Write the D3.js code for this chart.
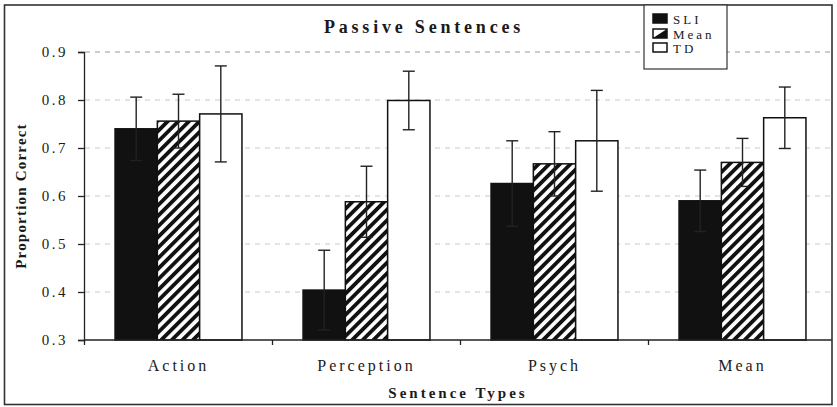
<!DOCTYPE html>
<html><head><meta charset="utf-8">
<script src="https://cdn.jsdelivr.net/npm/d3@7"></script>
<style>body{margin:0;background:#fff}svg{display:block}svg text{font-family:"Liberation Serif","Times New Roman",Times,"DejaVu Serif",serif !important;fill:#1a1a1a}</style>
</head><body>
<svg id="c" width="837" height="407"></svg>
<script>
const categories = ["Action", "Perception", "Psych", "Mean"];
const groups = ["SLI", "Mean", "TD"];
const sliValues = [0.740, 0.404, 0.626, 0.590];
const sliErrors = [0.066, 0.083, 0.089, 0.064];
const meanValues = [0.756, 0.588, 0.667, 0.670];
const meanErrors = [0.056, 0.074, 0.067, 0.050];
const tdValues = [0.771, 0.799, 0.715, 0.763];
const tdErrors = [0.100, 0.061, 0.105, 0.064];
const yTicks = [0.3, 0.4, 0.5, 0.6, 0.7, 0.8, 0.9];

const series = [
  {name: "SLI", values: sliValues, errors: sliErrors},
  {name: "Mean", values: meanValues, errors: meanErrors},
  {name: "TD", values: tdValues, errors: tdErrors}
];

const svg = d3.select("#c");
const defs = svg.append("defs");
const pat = defs.append("pattern").attr("id","hatch").attr("patternUnits","userSpaceOnUse")
  .attr("width",7.5).attr("height",7.5).attr("patternTransform","rotate(45)");
pat.append("rect").attr("width",7.5).attr("height",7.5).attr("fill","#fff");
pat.append("rect").attr("x",0).attr("width",3.8).attr("height",7.5).attr("fill","#111");

const fills = {SLI: "#111", Mean: "url(#hatch)", TD: "#fff"};

const x0 = d3.scaleBand().domain(categories).range([84.5, 836.5]).paddingInner(0.325).paddingOuter(0.1625);
const x1 = d3.scaleBand().domain(groups).range([0, x0.bandwidth()]);
const y = d3.scaleLinear().domain([0.3, 0.9]).range([340, 52]);
const xRight = 832;

// gridlines
svg.append("g").selectAll("line").data(yTicks.filter(t => t > 0.3)).join("line")
  .attr("x1", 85).attr("x2", xRight).attr("y1", d => y(d)).attr("y2", d => y(d))
  .attr("stroke", d => d === 0.9 ? "#999" : "#c8c8c8").attr("stroke-width", 1)
  .attr("stroke-dasharray", "5,5");

// bars
const g = svg.append("g");
categories.forEach((c, i) => {
  series.forEach(s => {
    const bx = x0(c) + x1(s.name);
    g.append("rect").attr("x", bx).attr("y", y(s.values[i]))
      .attr("width", x1.bandwidth()).attr("height", y(0.3) - y(s.values[i]))
      .attr("fill", fills[s.name]).attr("stroke", "#111").attr("stroke-width", 1.5);
  });
});
// error bars
categories.forEach((c, i) => {
  series.forEach(s => {
    const cx = x0(c) + x1(s.name) + x1.bandwidth() / 2;
    const hi = y(s.values[i] + s.errors[i]), lo = y(s.values[i] - s.errors[i]);
    const col = "#222";
    g.append("line").attr("x1", cx).attr("x2", cx).attr("y1", hi).attr("y2", lo).attr("stroke", col).attr("stroke-width", 1.4);
    g.append("line").attr("x1", cx - 6).attr("x2", cx + 6).attr("y1", hi).attr("y2", hi).attr("stroke", col).attr("stroke-width", 1.4);
    g.append("line").attr("x1", cx - 6).attr("x2", cx + 6).attr("y1", lo).attr("y2", lo).attr("stroke", col).attr("stroke-width", 1.4);
  });
});

// y axis
const yAxis = svg.append("g").attr("transform", "translate(84,0)")
  .call(d3.axisLeft(y).tickValues(yTicks).tickFormat(d3.format(".1f")).tickSize(6).tickPadding(10));
yAxis.attr("font-family", null).attr("font-size", null);
yAxis.select(".domain").attr("stroke", "#222").attr("stroke-width", 1.3);
yAxis.selectAll(".tick line").attr("stroke", "#222").attr("stroke-width", 1.3);
yAxis.selectAll(".tick text").attr("font-size", 15).attr("letter-spacing", "2.5px").attr("fill", "#222");

// x axis
svg.append("line").attr("x1", 84).attr("x2", xRight).attr("y1", 340).attr("y2", 340).attr("stroke", "#222").attr("stroke-width", 1.3);
const bounds = categories.map(c => x0(c) - x0.step() * x0.paddingInner() / 2).map((v, i) => i === 0 ? 84.5 : v);
svg.append("g").selectAll("line").data(bounds).join("line")
  .attr("x1", d => d).attr("x2", d => d).attr("y1", 340).attr("y2", 345).attr("stroke", "#222").attr("stroke-width", 1.3);
svg.append("g").selectAll("text").data(categories).join("text")
  .attr("x", d => x0(d) + x0.bandwidth() / 2).attr("y", 371).attr("text-anchor", "middle")
  .attr("font-size", 16).attr("letter-spacing", "3px").text(d => d);

// titles
svg.append("text").attr("x", 424).attr("y", 33).attr("text-anchor", "middle")
  .attr("font-size", 18).attr("font-weight", "bold").attr("letter-spacing", "3.8px").text("Passive Sentences");
svg.append("text").attr("x", 458).attr("y", 398).attr("text-anchor", "middle")
  .attr("font-size", 15).attr("font-weight", "bold").attr("letter-spacing", "3px").text("Sentence Types");
svg.append("text").attr("transform", "translate(26,196) rotate(-90)").attr("text-anchor", "middle")
  .attr("font-size", 15).attr("font-weight", "bold").attr("letter-spacing", "1.2px").text("Proportion Correct");

// frame
svg.append("rect").attr("x", 4.5).attr("y", 5).attr("width", 827.5).attr("height", 399.5)
  .attr("fill", "none").attr("stroke", "#333").attr("stroke-width", 1.6);

// legend
const lg = svg.append("g");
lg.append("rect").attr("x", 644).attr("y", 5).attr("width", 83).attr("height", 64)
  .attr("fill", "#fff").attr("stroke", "#333").attr("stroke-width", 1.2);
const legY = [14, 29, 43];
series.forEach((s, i) => {
  const sy = legY[i];
  if (s.name === "Mean") {
    lg.append("rect").attr("x", 653).attr("y", sy).attr("width", 14).attr("height", 9).attr("fill", "#fff").attr("stroke", "#111").attr("stroke-width", 1.5);
    lg.append("path").attr("d", `M${653},${sy + 9} L${667},${sy} L${667},${sy + 9} Z`).attr("fill", "#111");
  } else {
    lg.append("rect").attr("x", 653).attr("y", sy).attr("width", 14).attr("height", 9)
      .attr("fill", fills[s.name]).attr("stroke", "#111").attr("stroke-width", 1.5);
  }
  lg.append("text").attr("x", 673).attr("y", sy + 9.5).attr("font-size", 13).attr("letter-spacing", "3px").text(s.name);
});
</script>
</body></html>
